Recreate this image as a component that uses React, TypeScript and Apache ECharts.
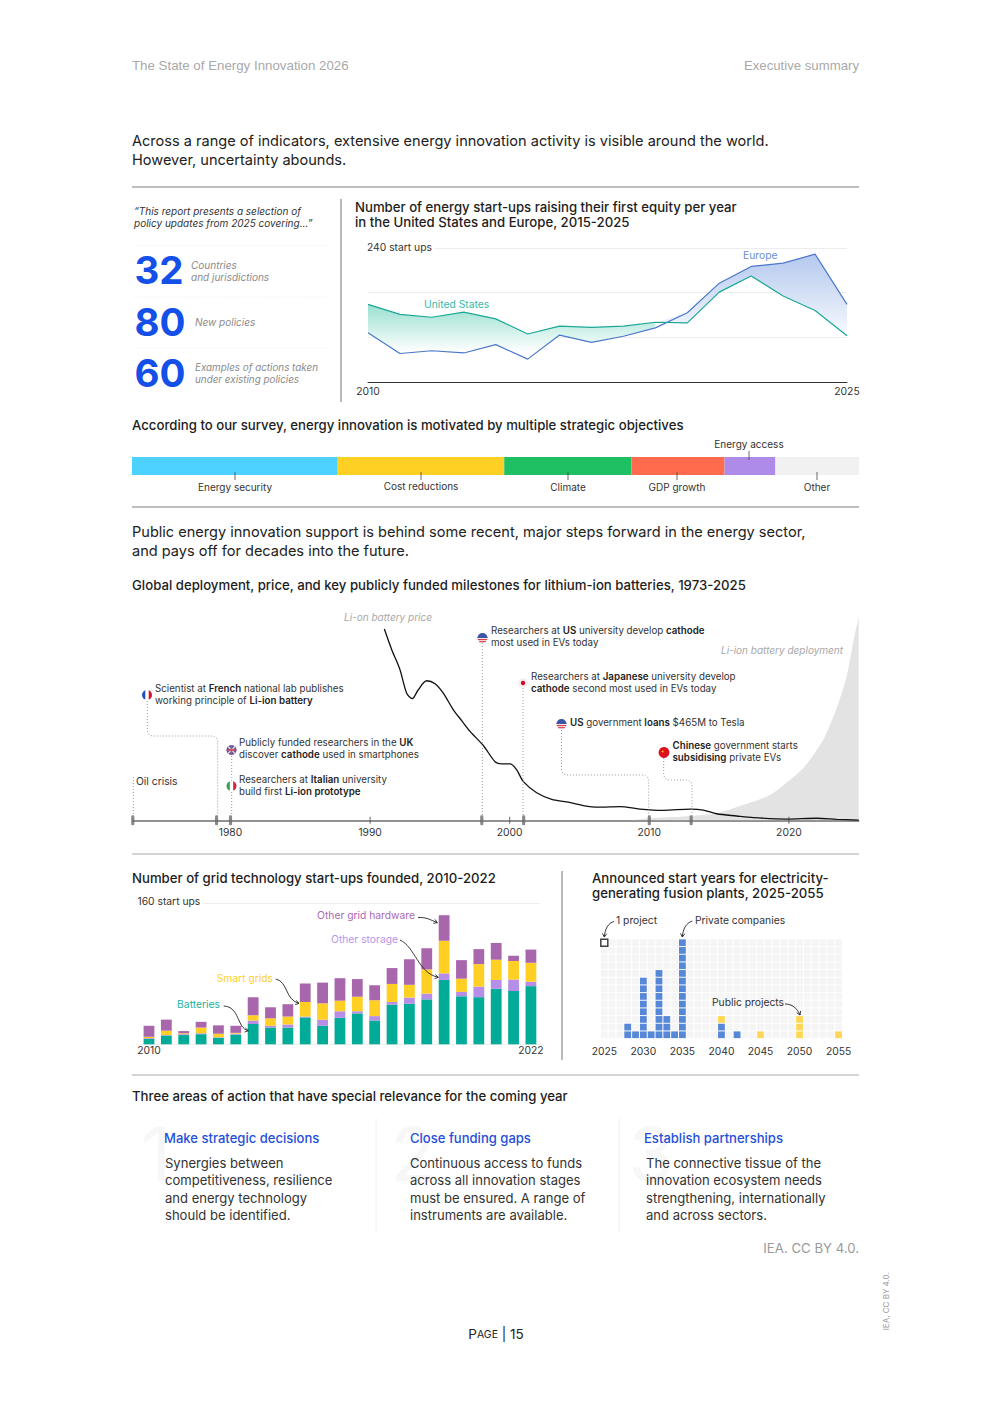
import React, { useEffect, useRef } from "react";
import * as echarts from "echarts";

const FONT = "Inter";

// --- start-ups line chart
const lineYears = ["2010","2011","2012","2013","2014","2015","2016","2017","2018","2019","2020","2021","2022","2023","2024","2025"];
const europeValues = [88, 51, 56, 52, 67, 41, 84, 71, 82, 97, 124, 177, 207, 213, 229, 139];
const usValues = [139, 121, 116, 125, 113, 86, 100, 98, 100, 107, 106, 161, 190, 154, 128, 83];

// --- survey
const surveyNames = ["Energy security", "Cost reductions", "Climate", "GDP growth", "Energy access", "Other"];
const surveyValues = [28.3, 22.9, 17.5, 12.8, 7, 11.5];
const surveyColors = ["#4dd2ff", "#ffd024", "#1fbf63", "#ff6b4d", "#ae8be8", "#f1f1f1"];

// --- battery timeline
const priceCurve = [
  [1991.02,93.6],[1991.55,83.5],[1992.14,73.7],[1992.62,62.2],[1993.02,59.6],[1993.45,63.9],[1994.05,68.3],[1994.65,66.8],
  [1995.24,62.2],[1995.96,54.1],[1996.56,48.8],[1997.16,43.5],[1998.11,36.6],[1998.95,28.7],[1999.43,27.6],[2000.02,27.6],
  [2000.5,24.7],[2000.98,18.9],[2001.93,13.5],[2003.01,10.3],[2004.08,9],[2005.27,7.2],[2006.35,6.4],[2007.9,6.7],
  [2009.33,5.5],[2011,4.9],[2012.93,5.5],[2013.87,5],[2014.83,3.2],[2016.26,2.1],[2017.45,1.3],[2019.84,0.6],[2022,1],[2023.42,0.5],[2025,0.1],
];
const deploymentCurve = [
  [2008.6,0],[2010.05,1],[2012.44,1.8],[2014.83,3.4],[2016.26,6.5],[2018.65,12.4],[2021.03,25.5],[2022.46,39.4],[2023.42,54.9],[2024.14,70.4],[2024.6,86.8],[2025,99.8],
];
const milestoneYears = [1973, 1979, 1980, 1998, 2001, 2010, 2013];
const decadeTicks = [1990, 2000, 2020];
const decadeLabels = [1980, 1990, 2000, 2010, 2020];

// --- grid start-ups
const barLabels = ["2010","","","","","","","","","","","","","","","","","","","","","","2022"];
const batteries = [6,10,10.5,11.5,7.5,11,23,19,19,30.5,21,30,35,27,45,46,51,73,54.5,53.5,63,60.5,66];
const otherStorage = [1,0.5,1,1,0.5,1,4,2,3.5,1,7,7.5,2.5,5,3,7,6.5,7.5,5,12,10,13,5];
const smartGrids = [1.5,5,1,6.5,4,1,6,8.5,9,16.5,18.5,12,16.5,18,20.5,14.5,27.5,37,15,25.5,23,21,21.5];
const otherHardware = [12.5,12.5,2.5,6.5,9.5,8,20.5,12.5,14,21,23.5,25.5,20,17,18,29,24,29,21,17,19,6,15];

// --- fusion plants
const fusionYears = Array.from({ length: 31 }, (_, i) => String(2025 + i));
const fusionRows = ["1","2","3","4","5","6","7","8","9","10","11","12","13"];
const privateCounts: Record<string, number> = { "2028": 2, "2029": 1, "2030": 8, "2031": 1, "2032": 9, "2033": 3, "2034": 1, "2035": 13, "2040": 2, "2042": 1 };
const publicCounts: Record<string, number> = { "2040": 1, "2045": 1, "2050": 3, "2055": 1 };

const C = { ink: "#1d1d1d", text: "#333", gray: "#8d8d8d", blue: "#1450e8", rule: "#a9a9a9" };
const Y_NUDGE = -0.7;

type TO = { size?: number; weight?: number | string; color?: string; italic?: boolean; align?: string; lh?: number; family?: string; rotation?: number; z?: number; bg?: string };

function text(x: number, y: number, s: string, o: TO = {}): any[] {
  const lines = s.split("\n");
  return lines.map((line, i) => {
    const hasRich = line.includes("**");
    const size = o.size ?? 10.5;
    const base = { fontFamily: o.family ?? FONT, fontSize: size, fontStyle: o.italic ? "italic" : "normal" };
    const style: any = {
      align: o.align ?? "left",
      verticalAlign: "middle",
      ...base,
      fontWeight: o.weight ?? 400,
      fill: o.color ?? C.text,
    };
    if (o.bg) { style.backgroundColor = o.bg; style.padding = [1, 3, 1, 0]; }
    if (hasRich) {
      style.text = line.split("**").map((p, k) => (p ? `{${k % 2 ? "b" : "r"}|${p}}` : "")).join("");
      style.rich = {
        r: { ...base, fontWeight: 400, fill: o.color ?? C.text },
        b: { ...base, fontWeight: 600, fill: C.ink },
      };
    } else {
      style.text = line;
    }
    return { type: "text", x, y: y + Y_NUDGE + i * (o.lh ?? 12), z: o.z ?? 100, silent: true, rotation: o.rotation ?? 0, style };
  });
}

function line(x1: number, y1: number, x2: number, y2: number, stroke: string, w = 1, dash?: number[]) {
  return { type: "line", z: 90, silent: true, shape: { x1, y1, x2, y2 }, style: { stroke, lineWidth: w, lineDash: dash } };
}
function dotted(points: number[][]) {
  return { type: "polyline", z: 30, silent: true, shape: { points }, style: { stroke: "#9c9c9c", lineWidth: 1, lineDash: [1, 2], fill: "none" } };
}
function arrow(x1: number, y1: number, c1x: number, c1y: number, c2x: number, c2y: number, x2: number, y2: number) {
  const a = Math.atan2(y2 - c2y, x2 - c2x);
  const head = (d: number) => [x2 - 4 * Math.cos(a + d), y2 - 4 * Math.sin(a + d)];
  return [
    { type: "bezierCurve", z: 95, silent: true, shape: { x1, y1, x2, y2, cpx1: c1x, cpy1: c1y, cpx2: c2x, cpy2: c2y }, style: { stroke: "#222", lineWidth: 0.9, fill: "none" } },
    { type: "polyline", z: 95, silent: true, shape: { points: [head(0.55), [x2, y2], head(-0.55)] }, style: { stroke: "#222", lineWidth: 0.9, fill: "none" } },
  ];
}
function splitFlag(cx: number, cy: number, left: string, right: string) {
  return [
    { type: "sector", z: 60, silent: true, shape: { cx, cy, r: 5, r0: 0, startAngle: Math.PI / 2, endAngle: Math.PI * 1.5 }, style: { fill: left } },
    { type: "sector", z: 60, silent: true, shape: { cx, cy, r: 5, r0: 0, startAngle: -Math.PI / 2, endAngle: Math.PI / 2 }, style: { fill: right } },
    { type: "rect", z: 61, silent: true, shape: { x: cx - 1.7, y: cy - 5.2, width: 3.4, height: 10.4 }, style: { fill: "#fff" } },
  ];
}
function usFlag(cx: number, cy: number) {
  const chords = [-0.5, 1.6, 3.7].map((dy) => {
    const hw = Math.sqrt(25 - dy * dy);
    return { type: "line", z: 61, silent: true, shape: { x1: cx - hw, y1: cy + dy, x2: cx + hw, y2: cy + dy }, style: { stroke: "#d8343f", lineWidth: 1.05 } };
  });
  return [
    { type: "circle", z: 60, silent: true, shape: { cx, cy, r: 5 }, style: { fill: "#f4e6e8" } },
    ...chords,
    { type: "sector", z: 62, silent: true, shape: { cx, cy, r: 5, r0: 0, startAngle: Math.PI, endAngle: Math.PI * 2 }, style: { fill: "#3c55a5" } },
  ];
}
function ukFlag(cx: number, cy: number) {
  return [
    { type: "circle", z: 60, silent: true, shape: { cx, cy, r: 5 }, style: { fill: "#4a5aa8" } },
    line(cx - 3.5, cy - 3.5, cx + 3.5, cy + 3.5, "#e9dfe4", 1.2),
    line(cx - 3.5, cy + 3.5, cx + 3.5, cy - 3.5, "#e9dfe4", 1.2),
    line(cx - 5, cy, cx + 5, cy, "#d9485a", 1.5),
    line(cx, cy - 5, cx, cy + 5, "#d9485a", 1.5),
  ];
}

function buildGraphics() {
  const g: any[] = [];
  const add = (...xs: any[]) => xs.forEach((x) => (Array.isArray(x) ? g.push(...x) : g.push(x)));
  const TITLE = { size: 13.2, weight: 500, color: C.ink };
  const NOTE = { size: 9.75, lh: 12 };

  // header
  add(text(132, 66.5, "The State of Energy Innovation 2026", { size: 13.3, color: "#a9a9a9", family: "Liberation Sans" }));
  add(text(859, 66.5, "Executive summary", { size: 13.2, color: "#a9a9a9", align: "right", family: "Liberation Sans" }));
  add(text(132, 142, "Across a range of indicators, extensive energy innovation activity is visible around the world.\nHowever, uncertainty abounds.", { size: 14.55, color: "#222", lh: 19 }));

  // rules
  add(line(132, 187, 859, 187, C.rule, 1.3), line(132, 507, 859, 507, C.rule, 1.3), line(132, 854, 859, 854, C.rule, 1), line(132, 1075, 859, 1075, C.rule, 1));
  add(line(341, 199, 341, 402, "#8a8a8a", 1.2), line(562, 871, 562, 1060, "#8a8a8a", 1.2));

  // left panel
  add(text(134, 212, "“This report presents a selection of\npolicy updates from 2025 covering...”", { size: 10, italic: true, color: "#333", lh: 12 }));
  [246, 297, 348].forEach((y) => add(line(134, y, 327, y, "#eeeeee", 1, [1, 1.5])));
  add(text(134.5, 271, "32", { size: 38.5, weight: 700, color: C.blue }));
  add(text(134.5, 322.5, "80", { size: 38.5, weight: 700, color: C.blue }));
  add(text(134.5, 373.5, "60", { size: 38.5, weight: 700, color: C.blue }));
  add(text(191, 265.5, "Countries\nand jurisdictions", { size: 10, italic: true, color: "#8a8a8a", lh: 12 }));
  add(text(195, 322.5, "New policies", { size: 10, italic: true, color: "#8a8a8a" }));
  add(text(195, 367.5, "Examples of actions taken\nunder existing policies", { size: 9.85, italic: true, color: "#8a8a8a", lh: 12 }));

  // line chart
  add(text(355, 208, "Number of energy start-ups raising their first equity per year\nin the United States and Europe, 2015-2025", { ...TITLE, lh: 14.5 }));
  add(text(367, 248, "240 start ups", { size: 10.3, bg: "#fff" }));
  add(text(743, 255.5, "Europe", { size: 10.3, color: "#6a8fd6" }));
  add(text(424, 304.5, "United States", { size: 10.3, color: "#36b8a6" }));

  // survey
  add(text(132, 426, "According to our survey, energy innovation is motivated by multiple strategic objectives", TITLE));
  const surveyX = [235, 421, 568, 677, 749, 817];
  surveyNames.forEach((n, i) => {
    if (n === "Energy access") {
      add(text(surveyX[i], 445, n, { size: 10, align: "center" }));
      add(line(surveyX[i], 451, surveyX[i], 460, "#444", 0.8));
    } else {
      const ly = n === "Cost reductions" ? 486.5 : 488;
      add(text(surveyX[i], ly, n, { size: 10, align: "center" }));
      add(line(surveyX[i], 472, surveyX[i], 480, "#444", 0.8));
    }
  });

  // public support
  add(text(132, 533, "Public energy innovation support is behind some recent, major steps forward in the energy sector,\nand pays off for decades into the future.", { size: 14.55, color: "#222", lh: 19 }));
  add(text(132, 586, "Global deployment, price, and key publicly funded milestones for lithium-ion batteries, 1973-2025", TITLE));

  // timeline annotations
  add(text(344, 618, "Li-on battery price", { size: 10, italic: true, color: "#a8a8a8" }));
  add(text(721, 650.5, "Li-ion battery deployment", { size: 10, italic: true, color: "#a8a8a8" }));
  add(text(136, 782, "Oil crisis", { size: 10.3 }));
  add(text(155, 689, "Scientist at **French** national lab publishes\nworking principle of **Li-ion battery**", NOTE));
  add(text(239, 743.5, "Publicly funded researchers in the **UK**\ndiscover **cathode** used in smartphones", NOTE));
  add(text(239, 780, "Researchers at **Italian** university\nbuild first **Li-ion prototype**", NOTE));
  add(text(491, 631, "Researchers at **US** university develop **cathode**\nmost used in EVs today", NOTE));
  add(text(531, 677, "Researchers at **Japanese** university develop\n**cathode** second most used in EVs today", NOTE));
  add(text(570, 723.5, "**US** government **loans** $465M to Tesla", NOTE));
  add(text(672.5, 746, "**Chinese** government starts\n**subsidising** private EVs", NOTE));

  add(dotted([[133.3, 777], [133.3, 816]]));
  add(dotted([[147.3, 701], [147.3, 731], [149, 734.5], [152, 736], [213, 736], [216.5, 738], [217.7, 741], [217.7, 816]]));
  add(dotted([[231.7, 756], [231.7, 816]]));
  add(dotted([[482.3, 643], [482.3, 816]]));
  add(dotted([[523, 688], [523, 816]]));
  add(dotted([[561.5, 730], [561.5, 770], [563, 773.5], [566, 775], [644, 775], [647.5, 777], [648.7, 780], [648.7, 816]]));
  add(dotted([[663.7, 758], [663.7, 775], [665, 778.5], [668, 780], [688, 780], [691, 782], [692, 785], [692, 816]]));

  add(splitFlag(147, 695, "#1e4fc4", "#d8112f"));
  add(ukFlag(231.5, 750));
  add(splitFlag(231.5, 786, "#3aa14a", "#d5203a"));
  add(usFlag(482.5, 638), usFlag(561.5, 724));
  add({ type: "circle", z: 60, silent: true, shape: { cx: 523, cy: 683, r: 5 }, style: { fill: "#f8eeee" } });
  add({ type: "circle", z: 61, silent: true, shape: { cx: 523, cy: 683, r: 2.2 }, style: { fill: "#c8102e" } });
  add({ type: "circle", z: 60, silent: true, shape: { cx: 664, cy: 752.5, r: 5.4 }, style: { fill: "#dc1020" } });
  add({ type: "circle", z: 61, silent: true, shape: { cx: 662.6, cy: 751.5, r: 1 }, style: { fill: "#f5b400" } });

  // grid start-ups
  add(text(132, 879, "Number of grid technology start-ups founded, 2010-2022", TITLE));
  add(text(137.5, 902, "160 start ups", { size: 10.3, bg: "#fff" }));
  add(text(415, 916, "Other grid hardware", { size: 10.3, color: "#ad6ab3", align: "right" }));
  add(text(398, 940, "Other storage", { size: 10.3, color: "#b894ea", align: "right" }));
  add(text(273, 979, "Smart grids", { size: 10.3, color: "#ffd02a", align: "right" }));
  add(text(220, 1005, "Batteries", { size: 10.3, color: "#1db3a0", align: "right" }));
  add(arrow(418, 917.5, 426, 917, 431, 920, 437.3, 922.7));
  add(arrow(400, 940, 415, 946.7, 418.3, 973.3, 438.3, 977.3));
  add(arrow(275.7, 979, 288.3, 981.7, 285, 1000, 299, 1003.3));
  add(arrow(223.7, 1006, 240, 1006.7, 236.7, 1028.3, 248.3, 1030.7));

  // fusion
  add(text(592, 879, "Announced start years for electricity-\ngenerating fusion plants, 2025-2055", { ...TITLE, lh: 15 }));
  add(text(616, 920.7, "1 project", { size: 10.3 }));
  add(text(695, 920.7, "Private companies", { size: 10.3 }));
  add(text(712, 1003, "Public projects", { size: 10.3 }));
  add(arrow(614, 921.5, 608, 923, 605, 929, 604.3, 937));
  add(arrow(692.3, 921, 686, 923, 683, 929, 682.3, 937));
  add(arrow(785, 1004, 792, 1004, 797, 1008, 800, 1015));

  // three areas
  add(text(132, 1097, "Three areas of action that have special relevance for the coming year", TITLE));
  [[156, "1"], [413, "2"], [651, "3"]].forEach(([x, n]) =>
    add(text(x as number, 1155, n as string, { size: 74, color: "#f7f7f7", align: "center", z: 20 })));
  add(line(376, 1118, 376, 1232, "#f2f2f2", 1), line(619, 1118, 619, 1232, "#f2f2f2", 1));
  const heads: [number, string][] = [[164, "Make strategic decisions"], [410, "Close funding gaps"], [644, "Establish partnerships"]];
  heads.forEach(([x, s]) => add(text(x, 1138.5, s, { size: 13.05, weight: 500, color: "#1f50d8" })));
  add(text(165, 1163.5, "Synergies between\ncompetitiveness, resilience\nand energy technology\nshould be identified.", { size: 13.05, lh: 17.5, color: "#333" }));
  add(text(410, 1163.5, "Continuous access to funds\nacross all innovation stages\nmust be ensured. A range of\ninstruments are available.", { size: 13.05, lh: 17.5, color: "#333" }));
  add(text(646, 1163.5, "The connective tissue of the\ninnovation ecosystem needs\nstrengthening, internationally\nand across sectors.", { size: 13.05, lh: 17.5, color: "#333" }));

  // footer
  add(text(859, 1249, "IEA. CC BY 4.0.", { size: 13.2, color: "#9a9a9a", align: "right" }));
  add({
    type: "text", x: 496, y: 1334, z: 100, silent: true,
    style: {
      text: "{a|P}{b|AGE}{a| | 15}", align: "center", verticalAlign: "middle",
      rich: { a: { fontFamily: FONT, fontSize: 13.5, fill: "#222" }, b: { fontFamily: FONT, fontSize: 10.5, fill: "#222" } },
    },
  });
  add(text(886, 1302, "IEA, CC BY 4.0.", { size: 8, color: "#9a9a9a", align: "center", rotation: Math.PI / 2 }));
  return g;
}

function bandRender(_: any, api: any) {
  const groups: { up: boolean; top: number[][]; bottom: number[][] }[] = [];
  let cur: any = null;
  for (let i = 0; i < usValues.length; i++) {
    const u = usValues[i], e = europeValues[i];
    const up = u >= e;
    if (cur && cur.up !== up) {
      const pu = usValues[i - 1], pe = europeValues[i - 1];
      const t = (pu - pe) / (pu - pe - (u - e));
      const xv = i - 1 + t, yv = pu + (u - pu) * t;
      const p = api.coord([xv, yv]);
      cur.top.push(p); cur.bottom.push(p);
      groups.push(cur);
      cur = { up, top: [p], bottom: [p] };
    }
    if (!cur) cur = { up, top: [], bottom: [] };
    const a = api.coord([i, Math.max(u, e)]);
    const b = api.coord([i, Math.min(u, e)]);
    cur.top.push(a); cur.bottom.push(b);
  }
  if (cur) groups.push(cur);
  const children = groups.map((r) => ({
    type: "polygon",
    shape: { points: [...r.top, ...[...r.bottom].reverse()] },
    style: {
      fill: r.up
        ? new echarts.graphic.LinearGradient(0, 304, 0, 352, [{ offset: 0, color: "#98dfd0" }, { offset: 1, color: "#ffffff" }], true)
        : new echarts.graphic.LinearGradient(0, 255, 0, 345, [{ offset: 0, color: "#b5c9ef" }, { offset: 1, color: "#ffffff" }], true),
    },
  }));
  return { type: "group", children };
}

function buildOption() {
  const fusionBg: number[][] = [];
  fusionYears.forEach((_, x) => fusionRows.forEach((__, y) => fusionBg.push([x, y])));
  const fusionBlue: number[][] = [];
  const fusionYellow: number[][] = [];
  fusionYears.forEach((yr, x) => {
    const p = privateCounts[yr] ?? 0;
    const q = publicCounts[yr] ?? 0;
    for (let k = 0; k < p; k++) fusionBlue.push([x, k]);
    for (let k = 0; k < q; k++) fusionYellow.push([x, p + k]);
  });
  const axisText = { fontFamily: FONT, fontSize: 10.3, color: "#333" };
  const barSeries = [
    { name: "Batteries", data: batteries, color: "#00ab98" },
    { name: "Other storage", data: otherStorage, color: "#b68ee8" },
    { name: "Smart grids", data: smartGrids, color: "#ffcf24" },
    { name: "Other grid hardware", data: otherHardware, color: "#a866ad" },
  ];
  const cell = [6.8, 6.7];
  return {
    animation: false,
    backgroundColor: "#fff",
    grid: [
      { left: 368, width: 479, top: 248, height: 134 },
      { left: 132, width: 727, top: 457, height: 18 },
      { left: 132.8, width: 725.9, top: 616, height: 204.3 },
      { left: 140.3, width: 399.3, top: 903.3, height: 141 },
      { left: 600.4, width: 242.1, top: 938.9, height: 99.7 },
    ],
    xAxis: [
      {
        gridIndex: 0, type: "category", data: lineYears, boundaryGap: false,
        axisLine: { lineStyle: { color: "#333", width: 1 } }, axisTick: { show: false },
        axisLabel: { ...axisText, margin: 4, interval: (i: number) => i === 0 || i === lineYears.length - 1, hideOverlap: false },
      },
      { gridIndex: 1, type: "value", min: 0, max: 100, show: false },
      {
        gridIndex: 2, type: "value", min: 1973, max: 2025,
        axisLine: { lineStyle: { color: "#6e6e6e", width: 1.6 } }, axisTick: { show: false }, splitLine: { show: false },
        axisLabel: { ...axisText, margin: 7, customValues: decadeLabels, formatter: (v: number) => String(v) },
      },
      {
        gridIndex: 3, type: "category", data: barLabels,
        axisLine: { show: false }, axisTick: { show: false },
        axisLabel: { ...axisText, margin: 1, interval: 0 },
      },
      {
        gridIndex: 4, type: "category", data: fusionYears,
        axisLine: { show: false },
        axisTick: { alignWithLabel: true, interval: 4, length: 7, lineStyle: { color: "#555", width: 0.8 } },
        axisLabel: { ...axisText, margin: 7, interval: 4 },
      },
    ],
    yAxis: [
      {
        gridIndex: 0, type: "value", min: 0, max: 240, interval: 80,
        axisLine: { show: false }, axisTick: { show: false }, axisLabel: { show: false },
        splitLine: { lineStyle: { color: "#ececec", width: 1 } },
      },
      { gridIndex: 1, type: "category", data: ["Share"], show: false },
      { gridIndex: 2, type: "value", min: 0, max: 100, show: false },
      {
        gridIndex: 3, type: "value", min: 0, max: 160, interval: 160,
        axisLine: { show: false }, axisTick: { show: false }, axisLabel: { show: false },
        splitLine: { lineStyle: { color: "#eeeeee", width: 1 } },
      },
      { gridIndex: 4, type: "category", data: fusionRows, show: false },
    ],
    series: [
      { type: "custom", xAxisIndex: 0, yAxisIndex: 0, clip: false, silent: true, data: [[0, 0]], renderItem: bandRender },
      { type: "line", name: "Europe", xAxisIndex: 0, yAxisIndex: 0, data: europeValues, showSymbol: false, lineStyle: { color: "#4a78c9", width: 1.2 } },
      { type: "line", name: "United States", xAxisIndex: 0, yAxisIndex: 0, data: usValues, showSymbol: false, lineStyle: { color: "#1aa896", width: 1.2 } },
      ...surveyNames.map((n, i) => ({
        type: "bar", name: n, xAxisIndex: 1, yAxisIndex: 1, stack: "survey", barWidth: 18,
        data: [surveyValues[i]], itemStyle: { color: surveyColors[i] },
      })),
      {
        type: "line", name: "Li-ion battery deployment", xAxisIndex: 2, yAxisIndex: 2, data: deploymentCurve, showSymbol: false, smooth: 0.2,
        lineStyle: { width: 0 }, areaStyle: { color: "#e3e3e3", opacity: 1 }, z: 1,
      },
      {
        type: "line", name: "Li-ion battery price", xAxisIndex: 2, yAxisIndex: 2, data: priceCurve, showSymbol: false, smooth: 0.3,
        lineStyle: { color: "#111", width: 1.3 }, z: 3,
      },
      {
        type: "scatter", xAxisIndex: 2, yAxisIndex: 2, data: milestoneYears.map((y) => [y, 0]), clip: false, silent: true, z: 4,
        symbol: "roundRect", symbolSize: [3.2, 10], itemStyle: { color: "#6a6a6a" },
      },
      {
        type: "scatter", xAxisIndex: 2, yAxisIndex: 2, data: decadeTicks.map((y) => [y, 0]), clip: false, silent: true, z: 4,
        symbol: "rect", symbolSize: [1, 7], itemStyle: { color: "#444" },
      },
      ...barSeries.map((s) => ({
        type: "bar", name: s.name, xAxisIndex: 3, yAxisIndex: 3, stack: "grid", barWidth: 10.8, data: s.data, itemStyle: { color: s.color },
      })),
      { type: "scatter", xAxisIndex: 4, yAxisIndex: 4, data: fusionBg, symbol: "rect", symbolSize: cell, itemStyle: { color: "#f2f2f2" }, silent: true, z: 1 },
      { type: "scatter", name: "Private companies", xAxisIndex: 4, yAxisIndex: 4, data: fusionBlue, symbol: "rect", symbolSize: cell, itemStyle: { color: "#2f6bd0" }, silent: true, z: 2 },
      { type: "scatter", name: "Public projects", xAxisIndex: 4, yAxisIndex: 4, data: fusionYellow, symbol: "rect", symbolSize: cell, itemStyle: { color: "#ffcf2a" }, silent: true, z: 2 },
      { type: "scatter", name: "1 project", xAxisIndex: 4, yAxisIndex: 4, data: [[0, 12]], symbol: "rect", symbolSize: [7, 7], clip: false, silent: true, z: 3, itemStyle: { color: "#fff", borderColor: "#111", borderWidth: 1.5 } },
    ],
    graphic: { elements: buildGraphics() },
  };
}

export default function App() {
  const ref = useRef<HTMLDivElement>(null);
  useEffect(() => {
    const chart = echarts.init(ref.current!, undefined, { renderer: "svg" });
    chart.setOption(buildOption() as any);
    return () => chart.dispose();
  }, []);
  return <div ref={ref} style={{ position: "absolute", left: 0, top: 0, width: 992, height: 1403, background: "#fff" }} />;
}
